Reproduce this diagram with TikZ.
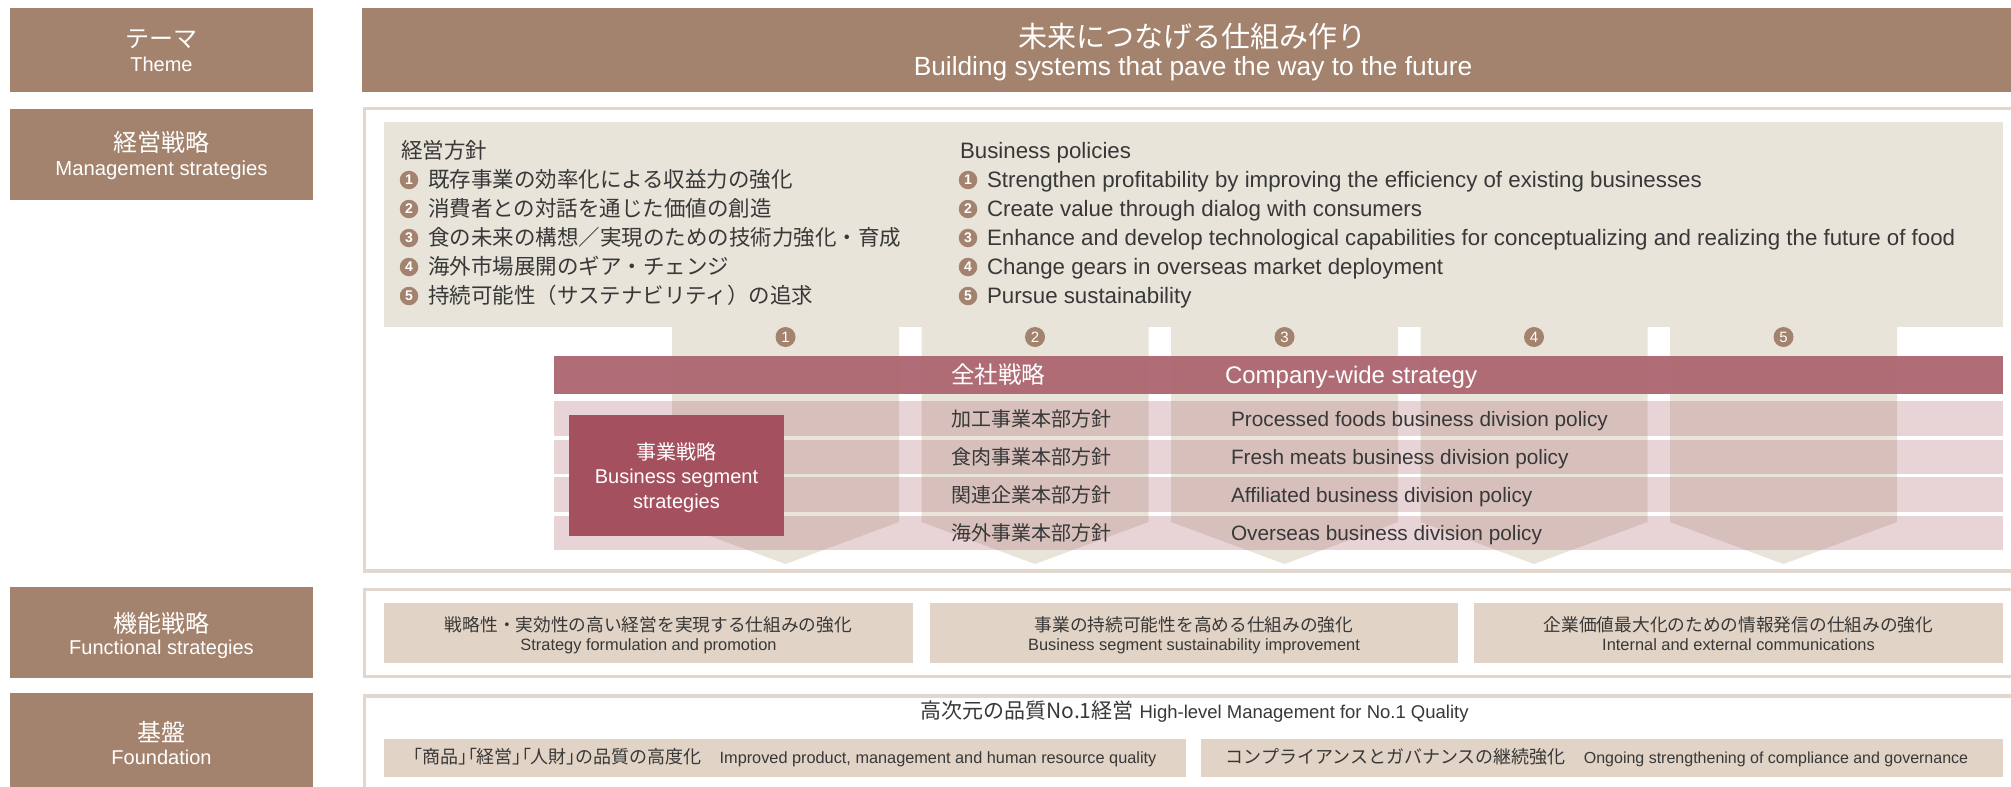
\documentclass[tikz,border=0pt]{standalone}
\usepackage{fontspec}
\setmainfont{Liberation Sans}
\newfontfamily\jp{Noto Sans CJK JP}
\newfontfamily\jpp[CharacterWidth=AlternateProportional]{Noto Sans CJK JP}
\newcommand\fsz[1]{\fontsize{#1}{#1}\selectfont}
\definecolor{lbrown}{HTML}{A3836D}
\definecolor{framec}{HTML}{E3D6CC}
\definecolor{beige}{HTML}{E8E4DA}
\definecolor{rose}{HTML}{AD6670}
\definecolor{segc}{HTML}{A5505E}
\definecolor{boxc}{HTML}{E1D3C5}
\definecolor{tdark}{HTML}{383838}
\tikzset{
  txt/.style={inner sep=0pt, outer sep=0pt, text=tdark},
  wtxt/.style={inner sep=0pt, outer sep=0pt, text=white},
  framel/.style={draw=framec, line width=3.5pt, line join=miter},
  numc/.style={circle, fill=lbrown, inner sep=0pt, text=white},
}
\begin{document}
\begin{tikzpicture}[x=1pt,y=-1pt]
\useasboundingbox (0,0) rectangle (2011,787);
\clip (0,0) rectangle (2011,787);
\fill[white] (0,0) rectangle (2011,787);

% ---------- left labels ----------
\fill[lbrown] (10,8) rectangle (313,92);
\fill[lbrown] (10,109) rectangle (313,200);
\fill[lbrown] (10,587) rectangle (313,678);
\fill[lbrown] (10,693) rectangle (313,800);
\node[wtxt, anchor=base, font=\fsz{24}\jp] (l1j) at (161.5,47) {テーマ};
\node[wtxt, anchor=base, font=\fsz{20}] (l1e) at (161.5,71) {Theme};
\node[wtxt, anchor=base, font=\fsz{24}\jp] (l2j) at (161.5,151) {経営戦略};
\node[wtxt, anchor=base, font=\fsz{20.3}] (l2e) at (161.5,175) {Management strategies};
\node[wtxt, anchor=base, font=\fsz{24}\jp] (l3j) at (161.5,632) {機能戦略};
\node[wtxt, anchor=base, font=\fsz{20}] (l3e) at (161.5,654) {Functional strategies};
\node[wtxt, anchor=base, font=\fsz{24}\jp] (l4j) at (161.5,741) {基盤};
\node[wtxt, anchor=base, font=\fsz{20}] (l4e) at (161.5,764) {Foundation};

% ---------- theme bar ----------
\fill[lbrown] (362,8) rectangle (2011,92);
\node[wtxt, anchor=base, font=\fsz{29}\jp] (thj) at (1192,47) {未来につなげる仕組み作り};
\node[wtxt, anchor=base, font=\fsz{26.3}] (the) at (1193,75) {Building systems that pave the way to the future};

% ---------- frames ----------
\draw[framel] (2020,108.7) -- (364.4,108.7) -- (364.4,571) -- (2020,571);
\draw[framel] (2020,589.7) -- (364.4,589.7) -- (364.4,676.5) -- (2020,676.5);
\draw[framel] (2020,696.2) -- (364.4,696.2) -- (364.4,800);

% ---------- management strategies ----------
\fill[beige] (384,122) rectangle (2003,327);
\foreach \i/\x in {1/672,2/921.5,3/1171,4/1420.5,5/1670}{
  \fill[beige] (\x,326) -- (\x+227,326) -- (\x+227,522) -- (\x+113.5,564) -- (\x,522) -- cycle;
  \node[numc, minimum size=20pt, font=\fsz{15}] (a\i) at (\x+113.5,337) {\i};
}

\node[txt, anchor=base west, font=\fsz{21.5}\jp] (mjh) at (401,158.8) {経営方針};
\node[txt, anchor=base west, font=\fsz{22.3}] (meh) at (960,158.8) {Business policies};
\foreach \i/\y/\tj/\te in {
  1/180/既存事業の効率化による収益力の強化/Strengthen profitability by improving the efficiency of existing businesses,
  2/209/消費者との対話を通じた価値の創造/Create value through dialog with consumers,
  3/238/食の未来の構想／実現のための技術力強化・育成/Enhance and develop technological capabilities for conceptualizing and realizing the future of food,
  4/267/海外市場展開のギア・チェンジ/Change gears in overseas market deployment,
  5/296/持続可能性（サステナビリティ）の追求/Pursue sustainability}{
  \node[numc, minimum size=18.5pt, font=\fsz{14}\bfseries] (mjc\i) at (409,\y) {\i};
  \node[txt, anchor=base west, font=\fsz{21.5}\jp] (mj\i) at (428,\y+7.9) {\tj};
  \node[numc, minimum size=18.5pt, font=\fsz{14}\bfseries] (mec\i) at (968,\y) {\i};
  \node[txt, anchor=base west, font=\fsz{22.3}] (me\i) at (987,\y+7.9) {\te};
}

% company-wide bar
\fill[rose, opacity=0.95] (554,356) rectangle (2003,394);
\node[wtxt, anchor=base west, font=\fsz{23.5}\jp] (cwj) at (951,383.7) {全社戦略};
\node[wtxt, anchor=base west, font=\fsz{24}] (cwe) at (1225,383.7) {Company-wide strategy};

% division rows
\foreach \i/\ya/\yb/\tj/\te in {
  1/401/436/加工事業本部方針/Processed foods business division policy,
  2/439.5/474/食肉事業本部方針/Fresh meats business division policy,
  3/477/512/関連企業本部方針/Affiliated business division policy,
  4/515.5/550/海外事業本部方針/Overseas business division policy}{
  \fill[rose, opacity=0.28] (554,\ya) rectangle (2003,\yb);
  \node[txt, anchor=base west, font=\fsz{20}\jp] (rj\i) at (951,{(\ya+\yb)/2+7.6}) {\tj};
  \node[txt, anchor=base west, font=\fsz{20.8}] (re\i) at (1231,{(\ya+\yb)/2+7.6}) {\te};
}

% business segment box
\fill[segc] (569,415) rectangle (784,536);
\node[wtxt, anchor=base, font=\fsz{20}\jp] (sgj) at (676.5,459.5) {事業戦略};
\node[wtxt, anchor=base, font=\fsz{20}] (sge1) at (676.5,483.5) {Business segment};
\node[wtxt, anchor=base, font=\fsz{20}] (sge2) at (676.5,508) {strategies};

% ---------- functional strategies ----------
\foreach \i/\xa/\xb/\tj/\te in {
  1/384/913/戦略性・実効性の高い経営を実現する仕組みの強化/Strategy formulation and promotion,
  2/930/1458/事業の持続可能性を高める仕組みの強化/Business segment sustainability improvement,
  3/1474/2003/企業価値最大化のための情報発信の仕組みの強化/Internal and external communications}{
  \fill[boxc] (\xa,602.5) rectangle (\xb,663);
  \node[txt, anchor=base, font=\fsz{17.7}\jp] (fj\i) at ({(\xa+\xb)/2},631) {\tj};
  \node[txt, anchor=base, font=\fsz{16.4}] (fe\i) at ({(\xa+\xb)/2},650) {\te};
}

% ---------- foundation ----------
\node[txt, anchor=base, font=\fsz{21}] (fdh) at (1194.5,718.3) {{\jp 高次元の品質No.1経営}\hspace{6pt}{\fsz{18.5}High-level Management for No.1 Quality}};
\fill[boxc] (384,738.5) rectangle (1186,776.5);
\fill[boxc] (1201,738.5) rectangle (2003,776.5);
\node[txt, anchor=base, font=\fsz{16.3}] (fb1) at (785,763.5) {{\fsz{18}\jpp 「商品」「経営」「人財」}{\fsz{18}\jp の品質の高度化}\hspace{18pt}Improved product, management and human resource quality};
\node[txt, anchor=base, font=\fsz{16}] (fb2) at (1597,763.5) {{\fsz{18}\jp コンプライアンスとガバナンスの継続強化}\hspace{18pt}Ongoing strengthening of compliance and governance};
\end{tikzpicture}
\end{document}
